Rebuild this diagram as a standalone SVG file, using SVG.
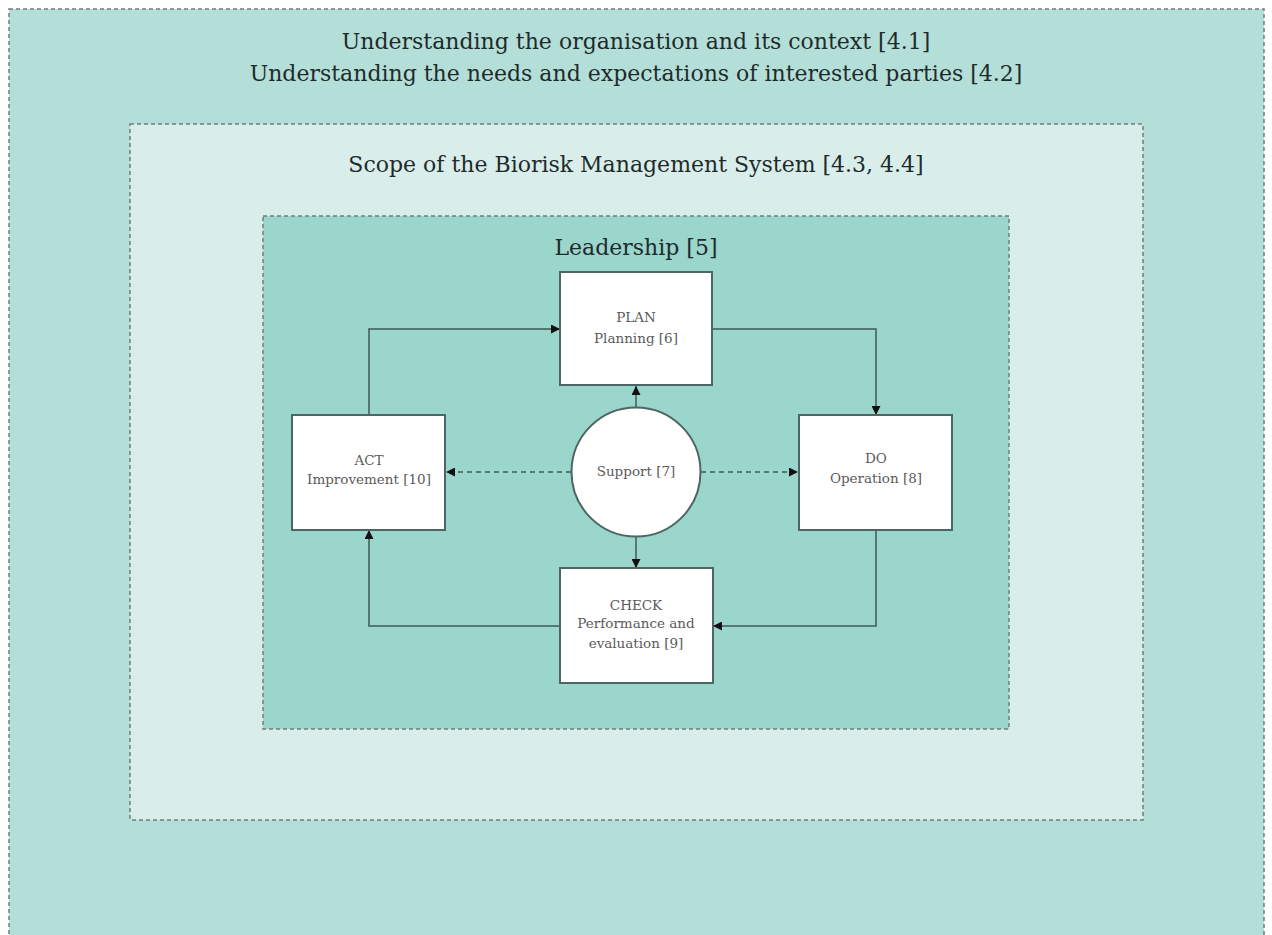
<svg xmlns="http://www.w3.org/2000/svg" width="1272" height="935" viewBox="0 0 1272 935">
<style>
.frame{stroke:#6f7f7e;stroke-width:1.5;stroke-dasharray:4 3}
.title{font-family:"DejaVu Serif","Liberation Serif",serif;fill:#1f2b2b;text-anchor:middle}
.box{fill:#ffffff;stroke:#4d6664;stroke-width:2}
.lbl{font-family:"DejaVu Serif","Liberation Serif",serif;font-size:13.5px;fill:#5a5a5a;text-anchor:middle}
.con{fill:none;stroke:#3f5a58;stroke-width:1.5}
.dash{stroke-dasharray:5 4}
</style>
<defs>
<marker id="ah" viewBox="0 0 10 10" refX="10" refY="5" markerWidth="9" markerHeight="9" markerUnits="userSpaceOnUse" orient="auto">
<path d="M0,0 L10,5 L0,10 z" fill="#111"/>
</marker>
</defs>
<rect width="1272" height="935" fill="#ffffff"/>
<g id="context">
<rect x="9" y="9" width="1255" height="940" fill="#b4dfd9" class="frame"/>
<text class="title" x="636" y="49" font-size="22">Understanding the organisation and its context [4.1]</text>
<text class="title" x="636" y="81" font-size="22">Understanding the needs and expectations of interested parties [4.2]</text>
</g>
<g id="scope">
<rect x="130" y="124" width="1013" height="696" fill="#d9eeeb" class="frame"/>
<text class="title" x="636" y="172" font-size="22">Scope of the Biorisk Management System [4.3, 4.4]</text>
</g>
<g id="leadership">
<rect x="263" y="216" width="746" height="513" fill="#9ad6cc" class="frame"/>
<text class="title" x="636" y="255" font-size="22">Leadership [5]</text>
</g>
<g id="connectors">
<polyline class="con" points="369,415 369,329 560,329" marker-end="url(#ah)"/>
<polyline class="con" points="712,329 876,329 876,415" marker-end="url(#ah)"/>
<polyline class="con" points="876,530 876,626 713,626" marker-end="url(#ah)"/>
<polyline class="con" points="560,626 369,626 369,530" marker-end="url(#ah)"/>
<line class="con" x1="636" y1="408" x2="636" y2="386" marker-end="url(#ah)"/>
<line class="con" x1="636" y1="537" x2="636" y2="568" marker-end="url(#ah)"/>
<line class="con dash" x1="571" y1="472" x2="446" y2="472" marker-end="url(#ah)"/>
<line class="con dash" x1="701" y1="472" x2="798" y2="472" marker-end="url(#ah)"/>
</g>
<g id="plan">
<rect class="box" x="560" y="272" width="152" height="113"/>
<text class="lbl" x="636" y="322">PLAN</text>
<text class="lbl" x="636" y="343">Planning [6]</text>
</g>
<g id="act">
<rect class="box" x="292" y="415" width="153" height="115"/>
<text class="lbl" x="369" y="465">ACT</text>
<text class="lbl" x="369" y="484">Improvement [10]</text>
</g>
<g id="do">
<rect class="box" x="799" y="415" width="153" height="115"/>
<text class="lbl" x="876" y="463">DO</text>
<text class="lbl" x="876" y="483">Operation [8]</text>
</g>
<g id="check">
<rect class="box" x="560" y="568" width="153" height="115"/>
<text class="lbl" x="636" y="610">CHECK</text>
<text class="lbl" x="636" y="628">Performance and</text>
<text class="lbl" x="636" y="648">evaluation [9]</text>
</g>
<g id="support">
<circle cx="636" cy="472" r="64.5" fill="#ffffff" stroke="#4d6664" stroke-width="2"/>
<text class="lbl" x="636" y="476">Support [7]</text>
</g>
</svg>
